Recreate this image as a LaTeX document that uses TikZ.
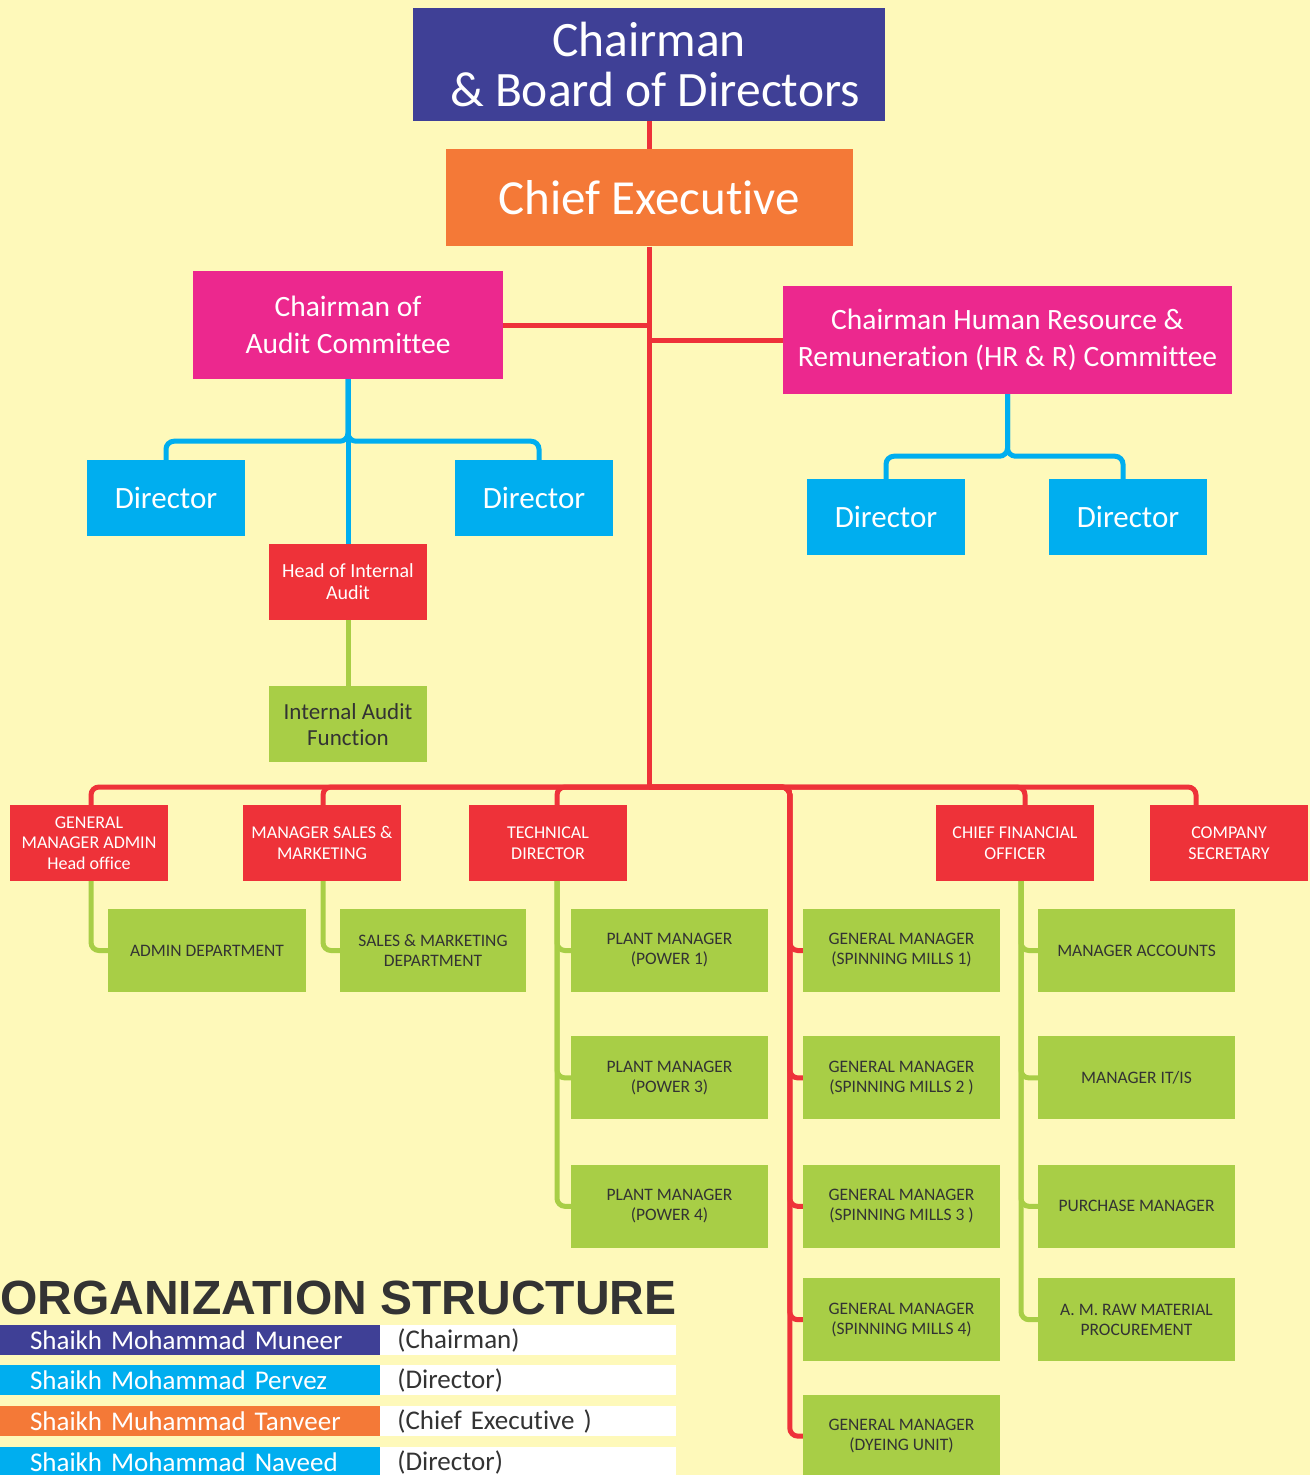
\documentclass[tikz,border=0pt]{standalone}
\usepackage{fontspec}
\setmainfont{Carlito}[Ligatures={NoCommon,NoContextual}]
\newfontfamily\headingfont{Liberation Sans}
\usetikzlibrary{positioning}

\definecolor{bgyellow}{HTML}{FEF9BA}
\definecolor{chairblue}{HTML}{3F4096}
\definecolor{ceorange}{HTML}{F47937}
\definecolor{magentabox}{HTML}{EC288E}
\definecolor{cyanbox}{HTML}{00AEEF}
\definecolor{redbox}{HTML}{EE3239}
\definecolor{greenbox}{HTML}{A8CE46}
\definecolor{darktext}{HTML}{333333}

\begin{document}
\begin{tikzpicture}
[x=1pt, y=-1pt,
box/.style={rectangle, inner sep=0pt, align=center, text=white},
chairbox/.style={box, fill=chairblue, minimum width=472pt, minimum height=113pt,
font=\fontsize{49.5}{50}\selectfont},
cebox/.style={box, fill=ceorange, minimum width=407pt, minimum height=97pt,
font=\fontsize{49}{50}\selectfont},
commbox/.style={box, fill=magentabox, minimum height=108pt,
font=\fontsize{29.5}{37}\selectfont},
dirbox/.style={box, fill=cyanbox, minimum width=158pt, minimum height=76pt,
font=\fontsize{31}{36}\selectfont},
headbox/.style={box, fill=redbox, minimum width=158pt, minimum height=76pt,
font=\fontsize{18}{20.5}\selectfont},
unitbox/.style={box, fill=greenbox, text=darktext, minimum width=197pt,
minimum height=83pt, font=\fontsize{17.5}{20}\selectfont},
redline/.style={draw=redbox, line width=5pt, rounded corners=8pt},
blueline/.style={draw=cyanbox, line width=5pt, rounded corners=8pt},
greenline/.style={draw=greenbox, line width=5pt, rounded corners=8pt},
namebar/.style={rectangle, inner sep=0pt, minimum width=380pt, minimum height=30pt,
text width=320pt, align=left, text=white, font=\fontsize{27}{30}\selectfont},
rolebar/.style={rectangle, inner sep=0pt, fill=white, minimum width=296pt,
minimum height=30pt, text width=262pt, align=left, text=darktext,
font=\fontsize{27}{30}\selectfont}]

\useasboundingbox (0,0) rectangle (1310,1475);
\fill[bgyellow] (0,0) rectangle (1310,1475);

% Draw top boxes
\node [chairbox] (chairman) at (649,64.5) {Chairman\\ \hspace*{12pt}\& Board of Directors};
\node [cebox, below=28pt of chairman] (ce) {Chief Executive};
\node [commbox, minimum width=310pt] (audit) at (348,325) {Chairman of\\Audit Committee};
\node [commbox, minimum width=449pt] (hr) at (1007.5,340) {Chairman Human Resource \&\\Remuneration (HR \& R) Committee};

\node [dirbox] (auditdirA) at (166,498) {Director};
\node [dirbox] (auditdirB) at (534,498) {Director};
\node [dirbox] (hrdirA) at (886,517) {Director};
\node [dirbox] (hrdirB) at (1128,517) {Director};

\node [headbox, font=\fontsize{20}{22}\selectfont] (headaudit) at (348,582) {Head of Internal\\Audit};
\node [unitbox, minimum width=158pt, minimum height=76pt,
font=\fontsize{23}{26}\selectfont, below=66pt of headaudit] (auditfunc) {Internal Audit\\Function};

% Draw second level
\node [headbox] (gmadmin) at (89,843) {GENERAL\\MANAGER ADMIN\\Head office};
\node [headbox] (sales) at (322,843) {MANAGER SALES \&\\MARKETING};
\node [headbox] (tech) at (548,843) {TECHNICAL\\DIRECTOR};
\node [headbox] (cfo) at (1015,843) {CHIEF FINANCIAL\\OFFICER};
\node [headbox] (secretary) at (1229,843) {COMPANY\\SECRETARY};

% Draw units
\node [unitbox, minimum width=198pt] (admindept) at (207,950.5) {ADMIN DEPARTMENT};
\node [unitbox, minimum width=186pt] (salesdept) at (433,950.5) {SALES \& MARKETING\\DEPARTMENT};

\node [unitbox] (plantA) at (669.5,950.5) {PLANT MANAGER\\(POWER 1)};
\node [unitbox, below=44pt of plantA] (plantB) {PLANT MANAGER\\(POWER 3)};
\node [unitbox, below=45pt of plantB] (plantC) {PLANT MANAGER\\(POWER 4)};

\node [unitbox] (millA) at (901.5,950.5) {GENERAL MANAGER\\(SPINNING MILLS 1)};
\node [unitbox, below=44pt of millA] (millB) {GENERAL MANAGER\\(SPINNING MILLS 2 )};
\node [unitbox, below=45pt of millB] (millC) {GENERAL MANAGER\\(SPINNING MILLS 3 )};
\node [unitbox, below=30pt of millC] (millD) {GENERAL MANAGER\\(SPINNING MILLS 4)};
\node [unitbox, below=33pt of millD] (dyeing) {GENERAL MANAGER\\(DYEING UNIT)};

\node [unitbox] (accounts) at (1136.5,950.5) {MANAGER ACCOUNTS};
\node [unitbox, below=44pt of accounts] (itis) {MANAGER IT/IS};
\node [unitbox, below=45pt of itis] (purchase) {PURCHASE MANAGER};
\node [unitbox, below=30pt of purchase] (rawmat) {A. M. RAW MATERIAL\\PROCUREMENT};

% Draw connectors
\coordinate (hub) at (ce.south |- 0,787);
\draw [redline] (chairman) -- (ce);
\draw [redline] (ce.south) -- (hub);
\draw [redline] (audit.east) -- (audit.east -| ce.south);
\draw [redline] (hr.west) -- (hr.west -| ce.south);

\draw [blueline] (audit.south) -- (headaudit.north);
\draw [blueline] (audit.south) -- ++(0,62) -| (auditdirA.north);
\draw [blueline] (audit.south) -- ++(0,62) -| ([xshift=5pt]auditdirB.north);
\draw [blueline] (hr.south) -- ++(0,62) -| (hrdirA.north);
\draw [blueline] (hr.south) -- ++(0,62) -| ([xshift=-5pt]hrdirB.north);
\draw [greenline] (headaudit) -- (auditfunc);

\draw [redline] (hub) -| ([xshift=2pt]gmadmin.north);
\draw [redline] (hub) -| ([xshift=1pt]sales.north);
\draw [redline] (hub) -| ([xshift=9pt]tech.north);
\draw [redline] (hub) -| ([xshift=10pt]cfo.north);
\draw [redline] (hub) -| ([xshift=-33pt]secretary.north);
\foreach \unit in {millA,millB,millC,millD,dyeing}
\draw [redline] (hub) -| ([xshift=-13pt]\unit.west) -- (\unit.west);

\draw [greenline] ([xshift=2pt]gmadmin.south) |- (admindept.west);
\draw [greenline] ([xshift=1pt]sales.south) |- (salesdept.west);
\foreach \unit in {plantA,plantB,plantC}
\draw [greenline] ([xshift=9pt]tech.south) |- (\unit.west);
\foreach \unit in {accounts,itis,purchase,rawmat}
\draw [greenline] ([xshift=6pt]cfo.south) |- (\unit.west);

% Draw legend
\node [anchor=base west, inner sep=0pt, text=darktext,
font=\headingfont\bfseries\fontsize{48}{48}\selectfont] (title) at (0,1314) {ORGANIZATION STRUCTURE};
\node [namebar, fill=chairblue] (nameA) at (190,1340) {Shaikh Mohammad Muneer};
\node [rolebar, right=0pt of nameA] (roleA) {(Chairman)};
\node [namebar, fill=cyanbox] (nameB) at (190,1380) {Shaikh Mohammad Pervez};
\node [rolebar, right=0pt of nameB] (roleB) {(Director)};
\node [namebar, fill=ceorange] (nameC) at (190,1421) {Shaikh Muhammad Tanveer};
\node [rolebar, right=0pt of nameC] (roleC) {(Chief Executive )};
\node [namebar, fill=cyanbox] (nameD) at (190,1462) {Shaikh Mohammad Naveed};
\node [rolebar, right=0pt of nameD] (roleD) {(Director)};

\end{tikzpicture}
\end{document}
